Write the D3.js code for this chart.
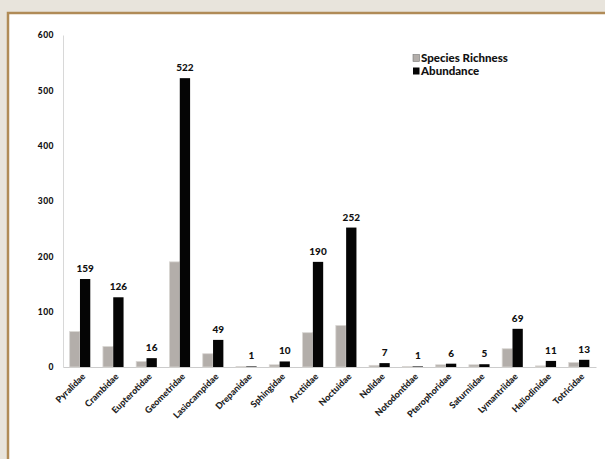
<!DOCTYPE html>
<html>
<head>
<meta charset="utf-8">
<script src="https://cdn.jsdelivr.net/npm/d3@7/dist/d3.min.js"></script>
<style>
html,body{margin:0;padding:0;background:#e8e4dc;}
svg{display:block;}
</style>
</head>
<body>
<svg id="chart" width="605" height="459"></svg>
<script>
const categories = ["Pyralidae","Crambidae","Eupterotidae","Geometridae","Lasiocampidae","Drepanidae","Sphingidae","Arctiidae","Noctuidae","Nolidae","Notodontidae","Pterophoridae","Saturniidae","Lymantriidae","Heliodinidae","Totricidae"];
const speciesRichness = [64, 37, 10, 190, 24, 1, 4, 62, 75, 3, 1, 4, 4, 33, 2, 8];
const abundance = [159, 126, 16, 522, 49, 1, 10, 190, 252, 7, 1, 6, 5, 69, 11, 13];
const yTicks = [0, 100, 200, 300, 400, 500, 600];
const seriesNames = ["Species Richness", "Abundance"];

const svg = d3.select("#chart");
const font = "Lato, 'Open Sans', sans-serif";

// frame
svg.append("rect").attr("x", 0).attr("y", 0).attr("width", 605).attr("height", 459).attr("fill", "#e8e4dc");
svg.append("rect").attr("x", 8).attr("y", 13).attr("width", 620).attr("height", 470)
  .attr("fill", "#ffffff").attr("stroke", "#b08b57").attr("stroke-width", 2.5);

const x0 = d3.scaleBand().domain(categories).range([63, 596]).paddingInner(0.38).paddingOuter(0.2);
const x1 = d3.scaleBand().domain(seriesNames).range([0, x0.bandwidth()]);
const y = d3.scaleLinear().domain([0, 600]).range([367, 35]);

// axes
const yAxis = d3.axisLeft(y).tickValues(yTicks).tickSize(0).tickPadding(9);
const gy = svg.append("g").attr("transform", "translate(63,0)").call(yAxis);
gy.select(".domain").attr("stroke", "#d8d8d8");
gy.selectAll("text").attr("font-family", font).attr("font-weight", 900).attr("font-size", 8.5)
  .attr("letter-spacing", 0.5).attr("fill", "#111");

const xAxis = d3.axisBottom(x0).tickSize(0).tickPadding(0);
const gx = svg.append("g").attr("transform", "translate(0,367)").call(xAxis);
gx.select(".domain").attr("stroke", "#cccccc");
gx.selectAll("text")
  .attr("font-family", font).attr("font-weight", 900).attr("font-size", 9).attr("fill", "#222")
  .attr("text-anchor", "end")
  .attr("dy", 0)
  .attr("transform", "translate(6,10) rotate(-45)");

const groups = svg.append("g").selectAll("g").data(categories).join("g")
  .attr("transform", d => `translate(${x0(d)},0)`);

groups.append("rect")
  .attr("x", x1("Species Richness"))
  .attr("y", (d, i) => y(speciesRichness[i]))
  .attr("width", x1.bandwidth())
  .attr("height", (d, i) => y(0) - y(speciesRichness[i]))
  .attr("fill", "#b3aeaa").attr("stroke", "#d9d6d3").attr("stroke-width", 0.8);

groups.append("rect")
  .attr("x", x1("Abundance"))
  .attr("y", (d, i) => y(abundance[i]))
  .attr("width", x1.bandwidth())
  .attr("height", (d, i) => y(0) - y(abundance[i]))
  .attr("fill", "#050505");

groups.append("text")
  .attr("x", x1("Abundance") + x1.bandwidth() / 2)
  .attr("y", (d, i) => y(abundance[i]) - 7)
  .attr("text-anchor", "middle")
  .attr("font-family", font).attr("font-weight", 900).attr("font-size", 10).attr("fill", "#111")
  .text((d, i) => abundance[i]);

// legend
const legend = svg.append("g").attr("transform", "translate(413,54)");
const colors = ["#b3aeaa", "#050505"];
seriesNames.forEach((s, i) => {
  const g = legend.append("g").attr("transform", `translate(0,${i * 13})`);
  g.append("rect").attr("x", 0).attr("y", 0.5).attr("width", 6.5).attr("height", 7)
    .attr("fill", colors[i]).attr("stroke", i === 0 ? "#777" : "none").attr("stroke-width", 0.6);
  g.append("text").attr("x", 8).attr("y", 8).attr("font-family", font).attr("font-weight", 900)
    .attr("font-size", 11.5).attr("fill", "#111").attr("letter-spacing", 0).text(s);
});
</script>
</body>
</html>
